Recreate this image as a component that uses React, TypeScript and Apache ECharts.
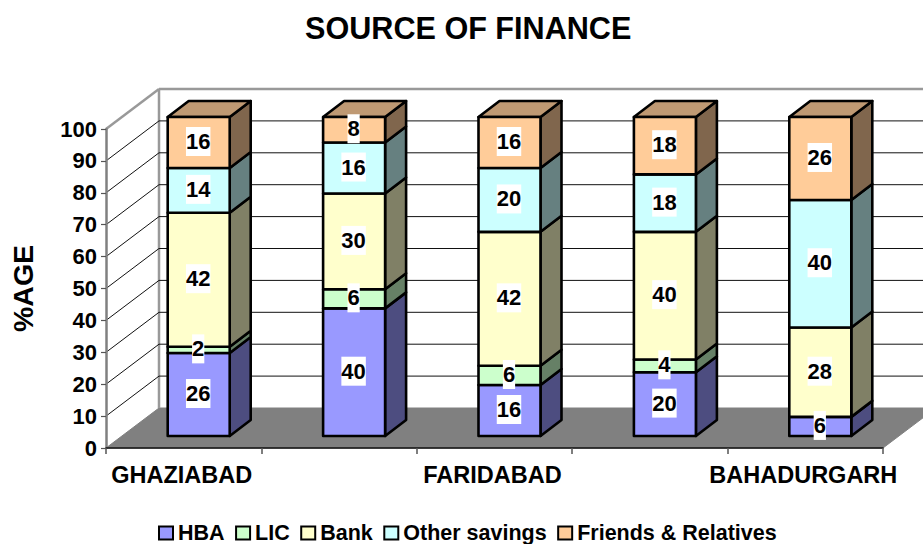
import React, { useEffect, useRef } from "react";
import * as echarts from "echarts";

const categories = ["GHAZIABAD", "", "FARIDABAD", "", "BAHADURGARH"];
const yTicks = [0, 10, 20, 30, 40, 50, 60, 70, 80, 90, 100];
const hba = [26, 40, 16, 20, 6];
const lic = [2, 6, 6, 4, 0];
const bank = [42, 30, 42, 40, 28];
const otherSavings = [14, 16, 20, 18, 40];
const friendsRelatives = [16, 8, 16, 18, 26];

const seriesNames = ["HBA", "LIC", "Bank", "Other savings", "Friends & Relatives"];
const seriesValues = [hba, lic, bank, otherSavings, friendsRelatives];
const frontColors = ["#9999FF", "#CCFFCC", "#FFFFCC", "#CCFFFF", "#FFCC99"];
const sideColors = ["#4D4D80", "#668066", "#808066", "#668080", "#80664D"];
const topColors = ["#7373BF", "#99BF99", "#BFBF99", "#99BFBF", "#BF9973"];

const FONT = '"Liberation Sans", Arial, sans-serif';
const WALL_DX = 53;
const WALL_DY = 40;
const BAR_OFF_X = 15;
const BAR_OFF_Y = 12;
const BAR_HALF = 31;
const BAR_DX = 21;
const BAR_DY = 16;

export default function App() {
  const ref = useRef<HTMLDivElement>(null);
  useEffect(() => {
    const chart = echarts.init(ref.current!, undefined, { renderer: "svg" });

    const wallItem = (params: any, api: any) => {
      const cs = params.coordSys;
      const y = api.coord([0, api.value(0)])[1];
      const x0 = cs.x;
      const x1 = cs.x + cs.width;
      const children: any[] = [];
      if (params.dataIndex === 0) {
        children.push({
          type: "polygon",
          shape: {
            points: [
              [x0, y],
              [x1, y],
              [x1 + WALL_DX, y - WALL_DY],
              [x0 + WALL_DX, y - WALL_DY],
            ],
          },
          style: { fill: "#808080", stroke: "#808080", lineWidth: 1 },
        });
        children.push({
          type: "line",
          shape: { x1: x0 + WALL_DX, y1: cs.y - WALL_DY, x2: x0 + WALL_DX, y2: y - WALL_DY },
          style: { stroke: "#999999", lineWidth: 2.5 },
        });
        children.push({
          type: "line",
          shape: { x1: x0 + WALL_DX, y1: cs.y - WALL_DY, x2: x1 + WALL_DX, y2: cs.y - WALL_DY },
          style: { stroke: "#999999", lineWidth: 2.5 },
        });
        children.push({
          type: "line",
          shape: { x1: x0, y1: cs.y, x2: x0 + WALL_DX, y2: cs.y - WALL_DY },
          style: { stroke: "#999999", lineWidth: 2.5 },
        });
      } else if (api.value(0) < 100) {
        children.push({
          type: "polyline",
          shape: {
            points: [
              [x0, y],
              [x0 + WALL_DX, y - WALL_DY],
              [x1 + WALL_DX, y - WALL_DY],
            ],
          },
          style: { fill: "none", stroke: "#111111", lineWidth: 1 },
        });
      }
      return { type: "group", children };
    };

    const barItem = (si: number) => (_params: any, api: any) => {
      const idx = api.value(0);
      const start = api.value(1);
      const end = api.value(2);
      const val = api.value(3);
      if (!val) return null;
      const pStart = api.coord([idx, start]);
      const pEnd = api.coord([idx, end]);
      const cx = pStart[0] + BAR_OFF_X;
      const yb = pStart[1] - BAR_OFF_Y;
      const yt = pEnd[1] - BAR_OFF_Y;
      const xl = cx - BAR_HALF;
      const xr = cx + BAR_HALF;
      const stroke = { stroke: "#000", lineWidth: 2.6, lineJoin: "round" };
      const children: any[] = [
        {
          type: "polygon",
          shape: {
            points: [
              [xr, yb],
              [xr + BAR_DX, yb - BAR_DY],
              [xr + BAR_DX, yt - BAR_DY],
              [xr, yt],
            ],
          },
          style: { fill: sideColors[si], ...stroke },
        },
      ];
      if (end >= 100) {
        children.push({
          type: "polygon",
          shape: {
            points: [
              [xl, yt],
              [xl + BAR_DX, yt - BAR_DY],
              [xr + BAR_DX, yt - BAR_DY],
              [xr, yt],
            ],
          },
          style: { fill: topColors[si], ...stroke },
        });
      }
      children.push({
        type: "rect",
        shape: { x: xl, y: yt, width: xr - xl, height: yb - yt },
        style: { fill: frontColors[si], ...stroke },
      });
      children.push({
        type: "text",
        z2: 100,
        style: {
          text: String(val),
          x: cx - 0.5,
          y: (yb + yt) / 2 - 1,
          align: "center",
          verticalAlign: "middle",
          fontSize: 22,
          fontWeight: "bold",
          fontFamily: FONT,
          fill: "#000",
          backgroundColor: "#fff",
          padding: [3, 0, 4, 0],
        },
      });
      return { type: "group", children };
    };

    const cumulative = categories.map(() => 0);
    const barSeries = seriesNames.map((name, si) => {
      const data = seriesValues[si].map((v, i) => {
        const s = cumulative[i];
        cumulative[i] += v;
        return [i, s, s + v, v];
      });
      return {
        type: "custom",
        name,
        z: 3,
        silent: true,
        renderItem: barItem(si),
        encode: { x: 0, y: [1, 2] },
        itemStyle: { color: frontColors[si], borderColor: "#000", borderWidth: 2.5 },
        data,
      };
    });

    chart.setOption({
      animation: false,
      backgroundColor: "#fff",
      title: {
        text: "SOURCE OF FINANCE",
        left: 300,
        top: 7,
        padding: 5,
        textStyle: { fontFamily: FONT, fontSize: 30.6, fontWeight: "bold", color: "#000" },
      },
      legend: {
        data: seriesNames,
        left: 158,
        top: 522,
        padding: 0,
        itemWidth: 14,
        itemHeight: 13,
        itemGap: 10.5,
        selectedMode: false,
        icon: "rect",
        textStyle: {
          fontFamily: FONT,
          fontSize: 21.5,
          fontWeight: "bold",
          color: "#000",
        },
      },
      grid: { left: 105, right: 40, top: 129, bottom: 96 },
      xAxis: {
        type: "category",
        data: categories,
        z: 5,
        axisLine: { lineStyle: { color: "#111", width: 1.5 } },
        axisTick: { show: true, length: 6, interval: 0, lineStyle: { color: "#555", width: 1.5 } },
        axisLabel: {
          interval: 0,
          margin: 15,
          fontFamily: FONT,
          fontSize: 23.5,
          fontWeight: "bold",
          color: "#000",
          padding: [0, 4, 0, 0],
        },
      },
      yAxis: {
        type: "value",
        min: 0,
        max: 100,
        interval: 10,
        z: 5,
        name: "%AGE",
        nameLocation: "middle",
        nameGap: 69,
        nameRotate: 90,
        nameTextStyle: { fontFamily: FONT, fontSize: 28.5, fontWeight: "bold", color: "#000" },
        splitLine: { show: false },
        axisLine: { show: true, lineStyle: { color: "#808080", width: 2.5 } },
        axisTick: { show: true, length: 5, lineStyle: { color: "#555", width: 1.2 } },
        axisLabel: {
          margin: 9,
          fontFamily: FONT,
          fontSize: 22,
          fontWeight: "bold",
          color: "#000",
          padding: [0, 0, 3, 0],
        },
      },
      series: [
        {
          type: "custom",
          name: "walls",
          z: 1,
          silent: true,
          renderItem: wallItem,
          encode: { y: 0 },
          data: yTicks.map((t) => [t]),
        },
        ...barSeries,
      ],
    });
    return () => chart.dispose();
  }, []);
  return (
    <div
      ref={ref}
      style={{ position: "fixed", left: 0, top: 0, width: 923, height: 544 }}
    />
  );
}
